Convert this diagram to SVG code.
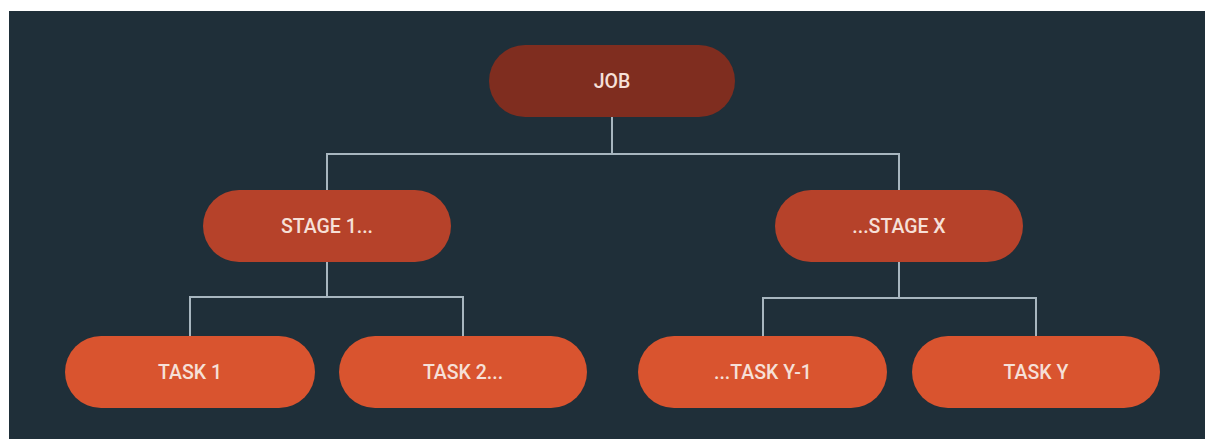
<svg xmlns="http://www.w3.org/2000/svg" width="1205" height="439" viewBox="0 0 1205 439">
  <style>
    .node text { font-family: Roboto, "Liberation Sans", sans-serif; font-size: 19.5px; font-weight: 500; fill: #f6e0d8; text-anchor: middle; dominant-baseline: central; }
    .job rect { fill: #7f2d1f; }
    .stage rect { fill: #b6422a; }
    .task rect { fill: #d9542f; }
    .links path { fill: none; stroke: #a7b6bf; stroke-width: 2; }
  </style>
  <rect x="0" y="0" width="1205" height="439" fill="#ffffff"/>
  <rect x="9" y="11" width="1196" height="428" fill="#1f2f39"/>

  <!-- tree connectors -->
  <g id="connectors" class="links">
    <path d="M612 117 V154 M327 190 V154 H899 V190"/>
    <path d="M327 262 V297 M190 336 V297 H463 V336"/>
    <path d="M899 262 V298 M763 336 V298 H1036 V336"/>
  </g>

  <g id="job" class="node job">
    <rect x="489" y="45" width="246" height="72" rx="36"/>
    <text x="612" y="81">JOB</text>
  </g>

  <g id="stage-1" class="node stage">
    <rect x="203" y="190" width="248" height="72" rx="36"/>
    <text x="327" y="226">STAGE 1...</text>
  </g>
  <g id="stage-x" class="node stage">
    <rect x="775" y="190" width="248" height="72" rx="36"/>
    <text x="899" y="226">...STAGE X</text>
  </g>

  <g id="task-1" class="node task">
    <rect x="65" y="336" width="250" height="72" rx="36"/>
    <text x="190" y="372">TASK 1</text>
  </g>
  <g id="task-2" class="node task">
    <rect x="339" y="336" width="248" height="72" rx="36"/>
    <text x="463" y="372">TASK 2...</text>
  </g>
  <g id="task-y-1" class="node task">
    <rect x="638" y="336" width="249" height="72" rx="36"/>
    <text x="763" y="372">...TASK Y-1</text>
  </g>
  <g id="task-y" class="node task">
    <rect x="912" y="336" width="248" height="72" rx="36"/>
    <text x="1036" y="372">TASK Y</text>
  </g>
</svg>
